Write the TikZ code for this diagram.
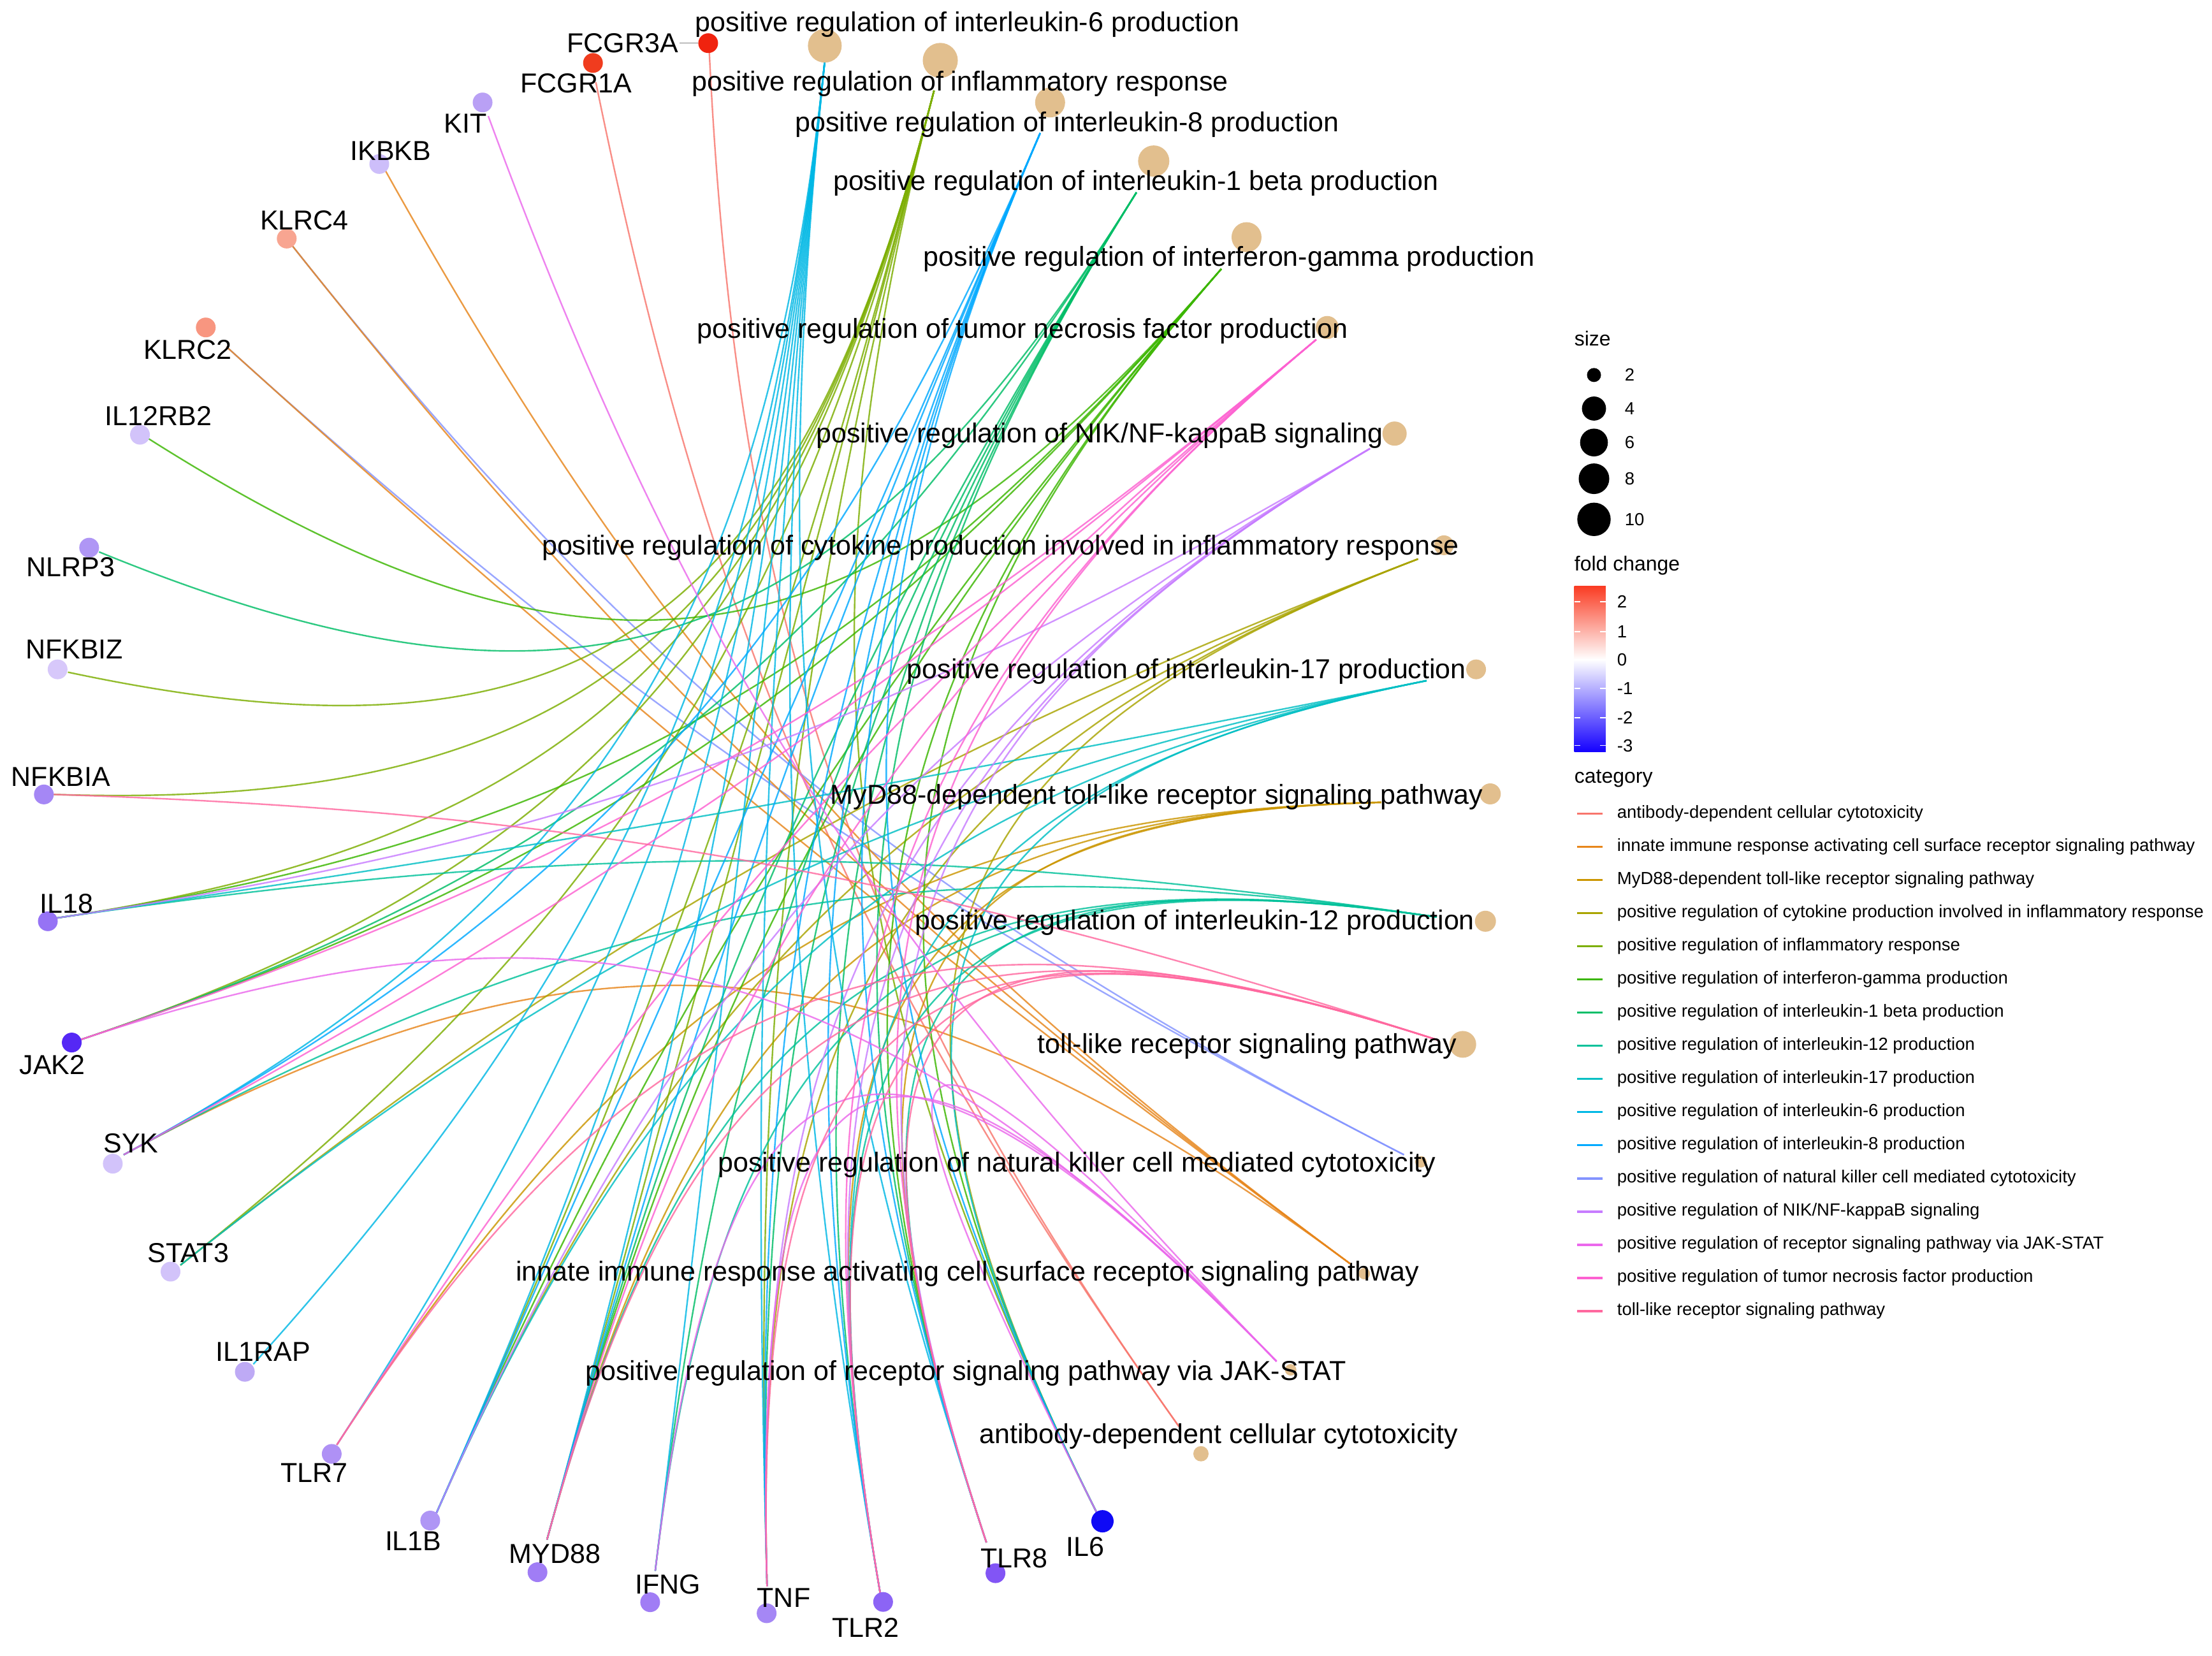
\documentclass[tikz,border=0pt]{standalone}
\usepackage{fontspec}
\setmainfont{Liberation Sans}
\usetikzlibrary{calc}
% category colours
\definecolor{colADCC}{HTML}{F8766D}
\definecolor{colINN}{HTML}{E7861B}
\definecolor{colMYD}{HTML}{CB9600}
\definecolor{colCYT}{HTML}{A9A400}
\definecolor{colINF}{HTML}{7CAE00}
\definecolor{colIFN}{HTML}{3BB600}
\definecolor{colIL1}{HTML}{00BE67}
\definecolor{colIL12}{HTML}{00C19A}
\definecolor{colIL17}{HTML}{00BFC4}
\definecolor{colIL6}{HTML}{00B8E5}
\definecolor{colIL8}{HTML}{00A9FF}
\definecolor{colNK}{HTML}{8494FF}
\definecolor{colNIK}{HTML}{C77CFF}
\definecolor{colJAK}{HTML}{EB68EC}
\definecolor{colTNF}{HTML}{FD61D1}
\definecolor{colTLR}{HTML}{FF689F}
\definecolor{catfill}{HTML}{E2BF8E}
\definecolor{fcTop}{RGB}{250,60,35}
\definecolor{fcLow}{RGB}{20,0,255}
% gene fold-change colours
\definecolor{fFCGR3A}{RGB}{240,35,15}
\definecolor{fFCGR1A}{RGB}{240,60,30}
\definecolor{fKIT}{RGB}{185,160,245}
\definecolor{fIKBKB}{RGB}{205,190,250}
\definecolor{fKLRC4}{RGB}{248,165,145}
\definecolor{fKLRC2}{RGB}{248,150,128}
\definecolor{fIL12RB2}{RGB}{210,195,250}
\definecolor{fNLRP3}{RGB}{175,150,245}
\definecolor{fNFKBIZ}{RGB}{215,200,250}
\definecolor{fNFKBIA}{RGB}{165,135,245}
\definecolor{fIL18}{RGB}{150,115,245}
\definecolor{fJAK2}{RGB}{85,40,245}
\definecolor{fSYK}{RGB}{210,195,250}
\definecolor{fSTAT3}{RGB}{210,195,250}
\definecolor{fIL1RAP}{RGB}{190,170,245}
\definecolor{fTLR7}{RGB}{175,145,245}
\definecolor{fIL1B}{RGB}{175,150,245}
\definecolor{fMYD88}{RGB}{160,125,245}
\definecolor{fIFNG}{RGB}{160,125,245}
\definecolor{fTNF}{RGB}{165,135,245}
\definecolor{fTLR2}{RGB}{140,100,245}
\definecolor{fTLR8}{RGB}{130,85,245}
\definecolor{fIL6}{RGB}{15,10,245}
\newcommand\gedge[2]{\draw[edge,draw=col#2] (g#1) .. controls ($(g#1)!0.75!(ctr)$) and ($(c#2)!0.75!(ctr)$) .. (c#2);}
\begin{document}
\begin{tikzpicture}[x=2.22pt,y=-2.22pt,
  edge/.style={line width=2.4pt,opacity=0.82},
  lab/.style={inner sep=0pt,font=\fontsize{43}{50}\selectfont},
  gpt/.style={circle,inner sep=0pt,minimum size=31pt,draw=none},
  cpt/.style={circle,inner sep=0pt,fill=catfill,draw=none},
  leg/.style={inner sep=0pt,anchor=west,font=\fontsize{27.5}{32}\selectfont},
  legttl/.style={inner sep=0pt,anchor=west,font=\fontsize{32}{38}\selectfont},
  keyline/.style={line width=3.5pt}]
\useasboundingbox (0,0) rectangle (1563,1170);
\fill[white] (0,0) rectangle (1563,1170);
\coordinate (ctr) at (527,577);
% ---- category anchors
\coordinate (cIL6) at (583,41);
\coordinate (cINF) at (660,64);
\coordinate (cIL8) at (735,94);
\coordinate (cIL1) at (803,136);
\coordinate (cIFN) at (863,190);
\coordinate (cTNF) at (930,240);
\coordinate (cNIK) at (968,317);
\coordinate (cCYT) at (1002,395);
\coordinate (cIL17) at (1008,481);
\coordinate (cMYD) at (976,567);
\coordinate (cIL12) at (1015,648);
\coordinate (cTLR) at (1016,735);
\coordinate (cNK) at (992,816);
\coordinate (cINN) at (954,893);
\coordinate (cJAK) at (902,962);
\coordinate (cADCC) at (833,1008);
% ---- gene anchors
\coordinate (gFCGR3A) at (501,33);
\coordinate (gFCGR1A) at (421,58);
\coordinate (gKIT) at (345,82);
\coordinate (gIKBKB) at (272,120);
\coordinate (gKLRC4) at (206,173);
\coordinate (gKLRC2) at (160,245);
\coordinate (gIL12RB2) at (105,310);
\coordinate (gNLRP3) at (70,390);
\coordinate (gNFKBIZ) at (48,475);
\coordinate (gNFKBIA) at (38,561.4);
\coordinate (gIL18) at (38,649);
\coordinate (gJAK2) at (56,735);
\coordinate (gSYK) at (87.4,816);
\coordinate (gSTAT3) at (127.5,894);
\coordinate (gIL1RAP) at (179,964);
\coordinate (gTLR7) at (238,1021);
\coordinate (gIL1B) at (308,1070);
\coordinate (gMYD88) at (386.5,1088);
\coordinate (gIFNG) at (463,1110);
\coordinate (gTNF) at (542,1121);
\coordinate (gTLR2) at (622.5,1129);
\coordinate (gTLR8) at (697,1090);
\coordinate (gIL6) at (776,1071);
% ---- edges
\gedge{FCGR3A}{ADCC}
\gedge{FCGR1A}{ADCC}
\gedge{KLRC4}{NK}
\gedge{KLRC2}{NK}
\gedge{IKBKB}{INN}
\gedge{KLRC4}{INN}
\gedge{KLRC2}{INN}
\gedge{SYK}{INN}
\gedge{TLR7}{MYD}
\gedge{MYD88}{MYD}
\gedge{TLR2}{MYD}
\gedge{TLR8}{MYD}
\gedge{STAT3}{CYT}
\gedge{IL1B}{CYT}
\gedge{TNF}{CYT}
\gedge{IL6}{CYT}
\gedge{NFKBIZ}{INF}
\gedge{NFKBIA}{INF}
\gedge{IL18}{INF}
\gedge{JAK2}{INF}
\gedge{STAT3}{INF}
\gedge{IL1B}{INF}
\gedge{MYD88}{INF}
\gedge{TNF}{INF}
\gedge{IL6}{INF}
\gedge{IL12RB2}{IFN}
\gedge{IL18}{IFN}
\gedge{JAK2}{IFN}
\gedge{IL1B}{IFN}
\gedge{MYD88}{IFN}
\gedge{TLR8}{IFN}
\gedge{IL6}{IFN}
\gedge{NLRP3}{IL1}
\gedge{JAK2}{IL1}
\gedge{MYD88}{IL1}
\gedge{IFNG}{IL1}
\gedge{TNF}{IL1}
\gedge{TLR2}{IL1}
\gedge{TLR8}{IL1}
\gedge{IL18}{IL12}
\gedge{SYK}{IL12}
\gedge{MYD88}{IL12}
\gedge{IFNG}{IL12}
\gedge{TLR2}{IL12}
\gedge{TLR8}{IL12}
\gedge{IL18}{IL17}
\gedge{STAT3}{IL17}
\gedge{IL1B}{IL17}
\gedge{TLR2}{IL17}
\gedge{IL6}{IL17}
\gedge{SYK}{IL6}
\gedge{IL1RAP}{IL6}
\gedge{TLR7}{IL6}
\gedge{IL1B}{IL6}
\gedge{MYD88}{IL6}
\gedge{IFNG}{IL6}
\gedge{TNF}{IL6}
\gedge{TLR2}{IL6}
\gedge{TLR8}{IL6}
\gedge{SYK}{IL8}
\gedge{IL1B}{IL8}
\gedge{MYD88}{IL8}
\gedge{TNF}{IL8}
\gedge{TLR2}{IL8}
\gedge{TLR8}{IL8}
\gedge{IL6}{IL8}
\gedge{IL18}{NIK}
\gedge{IL1B}{NIK}
\gedge{TNF}{NIK}
\gedge{TLR2}{NIK}
\gedge{TLR8}{NIK}
\gedge{KIT}{JAK}
\gedge{JAK2}{JAK}
\gedge{IFNG}{JAK}
\gedge{TNF}{JAK}
\gedge{IL6}{JAK}
\gedge{SYK}{TNF}
\gedge{JAK2}{TNF}
\gedge{TLR7}{TNF}
\gedge{MYD88}{TNF}
\gedge{TLR2}{TNF}
\gedge{TLR8}{TNF}
\gedge{NFKBIA}{TLR}
\gedge{TLR7}{TLR}
\gedge{MYD88}{TLR}
\gedge{TNF}{TLR}
\gedge{TLR2}{TLR}
\gedge{TLR8}{TLR}
% ---- category points
\node[cpt,minimum size=53pt] (pIL6) at (582.8,32.3) {};
\node[cpt,minimum size=55pt] (pINF) at (664.4,42.7) {};
\node[cpt,minimum size=47pt] (pIL8) at (742,72.4) {};
\node[cpt,minimum size=49pt] (pIL1) at (815.2,113.8) {};
\node[cpt,minimum size=47pt] (pIFN) at (880.8,167.6) {};
\node[cpt,minimum size=36pt] (pTNF) at (937.8,231.4) {};
\node[cpt,minimum size=38pt] (pNIK) at (985.4,306.4) {};
\node[cpt,minimum size=31pt] (pCYT) at (1020.3,385.3) {};
\node[cpt,minimum size=31pt] (pIL17) at (1043,473) {};
\node[cpt,minimum size=33pt] (pMYD) at (1053,561) {};
\node[cpt,minimum size=33pt] (pIL12) at (1049.6,651) {};
\node[cpt,minimum size=42pt] (pTLR) at (1033.6,738) {};
\node[cpt,minimum size=18pt] (pNK) at (1004,821) {};
\node[cpt,minimum size=18pt] (pINN) at (964,900) {};
\node[cpt,minimum size=18pt] (pJAK) at (912,968) {};
\node[cpt,minimum size=24pt] (pADCC) at (848.6,1027.3) {};
% ---- gene points
\node[gpt,fill=fFCGR3A] (nFCGR3A) at (500.4,30.5) {};
\node[gpt,fill=fFCGR1A] (nFCGR1A) at (419,44.5) {};
\node[gpt,fill=fKIT] (nKIT) at (341,72.4) {};
\node[gpt,fill=fIKBKB] (nIKBKB) at (268,115.9) {};
\node[gpt,fill=fKLRC4] (nKLRC4) at (202.6,168.6) {};
\node[gpt,fill=fKLRC2] (nKLRC2) at (145.4,231.4) {};
\node[gpt,fill=fIL12RB2] (nIL12RB2) at (98.9,307.2) {};
\node[gpt,fill=fNLRP3] (nNLRP3) at (63,387) {};
\node[gpt,fill=fNFKBIZ] (nNFKBIZ) at (40.7,473) {};
\node[gpt,fill=fNFKBIA] (nNFKBIA) at (31,561.4) {};
\node[gpt,fill=fIL18] (nIL18) at (33.8,651) {};
\node[gpt,fill=fJAK2] (nJAK2) at (50.7,736.7) {};
\node[gpt,fill=fSYK] (nSYK) at (79.7,822.3) {};
\node[gpt,fill=fSTAT3] (nSTAT3) at (120.5,898.6) {};
\node[gpt,fill=fIL1RAP] (nIL1RAP) at (173,969.4) {};
\node[gpt,fill=fTLR7] (nTLR7) at (234.4,1027.4) {};
\node[gpt,fill=fIL1B] (nIL1B) at (304,1074.5) {};
\node[gpt,fill=fMYD88] (nMYD88) at (379.8,1111) {};
\node[gpt,fill=fIFNG] (nIFNG) at (459.4,1132.2) {};
\node[gpt,fill=fTNF] (nTNF) at (541.7,1140) {};
\node[gpt,fill=fTLR2] (nTLR2) at (624,1132) {};
\node[gpt,fill=fTLR8] (nTLR8) at (703.4,1111.7) {};
\node[gpt,fill=fIL6,minimum size=35pt] (nIL6) at (779,1075) {};
% ---- gene labels
\node[lab] (lFCGR3A) at (440,30.5) {FCGR3A};
\draw[gray,line width=1.5pt] (lFCGR3A.east) ++(1,0) -- (nFCGR3A.west);
\node[lab] (lFCGR1A) at (407,59) {FCGR1A};
\node[lab] (lKIT) at (329,87.4) {KIT};
\node[lab] (lIKBKB) at (276,106.5) {IKBKB};
\node[lab] (lKLRC4) at (215,155.7) {KLRC4};
\node[lab] (lKLRC2) at (132.7,247) {KLRC2};
\node[lab] (lIL12RB2) at (112,294) {IL12RB2};
\node[lab] (lNLRP3) at (50,400.6) {NLRP3};
\node[lab] (lNFKBIZ) at (52.5,459) {NFKBIZ};
\node[lab] (lNFKBIA) at (43,549) {NFKBIA};
\node[lab] (lIL18) at (47,638.4) {IL18};
\node[lab] (lJAK2) at (37,752.5) {JAK2};
\node[lab] (lSYK) at (92.6,808) {SYK};
\node[lab] (lSTAT3) at (133,885.6) {STAT3};
\node[lab] (lIL1RAP) at (186,955) {IL1RAP};
\node[lab] (lTLR7) at (222,1041) {TLR7};
\node[lab] (lIL1B) at (292,1089) {IL1B};
\node[lab] (lMYD88) at (392,1098) {MYD88};
\node[lab] (lIFNG) at (472,1119.4) {IFNG};
\node[lab] (lTNF) at (553.8,1129) {TNF};
\node[lab] (lTLR2) at (611.5,1150) {TLR2};
\node[lab] (lTLR8) at (716.7,1101) {TLR8};
\node[lab] (lIL6) at (766.8,1093) {IL6};
% ---- category labels
\node[lab] (tIL6) at (683.5,17.5) {positive regulation of interleukin-6 production};
\node[lab] (tINF) at (678.5,59) {positive regulation of inflammatory response};
\node[lab] (tIL8) at (754,88) {positive regulation of interleukin-8 production};
\node[lab] (tIL1) at (802.5,129.3) {positive regulation of interleukin-1 beta production};
\node[lab] (tIFN) at (868.5,183) {positive regulation of interferon-gamma production};
\node[lab] (tTNF) at (722.5,234) {positive regulation of tumor necrosis factor production};
\node[lab] (tNIK) at (777,307.7) {positive regulation of NIK/NF-kappaB signaling};
\node[lab] (tCYT) at (707,387) {positive regulation of cytokine production involved in inflammatory response};
\node[lab] (tIL17) at (838.4,474.4) {positive regulation of interleukin-17 production};
\node[lab] (tMYD) at (817.3,563) {MyD88-dependent toll-like receptor signaling pathway};
\node[lab] (tIL12) at (844.3,652) {positive regulation of interleukin-12 production};
\node[lab] (tTLR) at (881.3,739.5) {toll-like receptor signaling pathway};
\node[lab] (tNK) at (761,823) {positive regulation of natural killer cell mediated cytotoxicity};
\node[lab] (tINN) at (683.7,900.3) {innate immune response activating cell surface receptor signaling pathway};
\node[lab] (tJAK) at (682.4,970.6) {positive regulation of receptor signaling pathway via JAK-STAT};
\node[lab] (tADCC) at (861,1015) {antibody-dependent cellular cytotoxicity};
% ---- legend: size
\node[legttl] (szT) at (1112.4,239) {size};
\fill[black] (1126.3,265) circle[radius=11pt];
\fill[black] (1126.3,288.7) circle[radius=18.9pt];
\fill[black] (1126.3,312.7) circle[radius=21.8pt];
\fill[black] (1126.3,338.3) circle[radius=24pt];
\fill[black] (1126.3,367) circle[radius=26.2pt];
\node[leg] (sz2) at (1148,265) {2};
\node[leg] (sz4) at (1148,288.7) {4};
\node[leg] (sz6) at (1148,312.7) {6};
\node[leg] (sz8) at (1148,338.3) {8};
\node[leg] (sz10) at (1148,367) {10};
% ---- legend: fold change
\node[legttl] (fcT) at (1112.4,399.8) {fold change};
\shade[top color=fcTop,bottom color=white] (1112.4,414.2) rectangle (1134.6,466.1);
\shade[top color=white,bottom color=fcLow] (1112.4,466.1) rectangle (1134.6,531.3);
\foreach \yy in {425.3,446.4,466.1,486.5,507.2,526.8}{
  \draw[white,line width=1.5pt] (1112.4,\yy) -- (1116.4,\yy);
  \draw[white,line width=1.5pt] (1130.6,\yy) -- (1134.6,\yy);}
\node[leg] (fc2) at (1142.6,425.3) {2};
\node[leg] (fc1) at (1142.6,446.4) {1};
\node[leg] (fc0) at (1142.6,466.1) {0};
\node[leg] (fcm1) at (1142.6,486.5) {-1};
\node[leg] (fcm2) at (1142.6,507.2) {-2};
\node[leg] (fcm3) at (1142.6,526.8) {-3};
% ---- legend: category
\node[legttl] (catT) at (1112.4,550) {category};
\foreach \c/\t [count=\i from 0] in {
  ADCC/{antibody-dependent cellular cytotoxicity},
  INN/{innate immune response activating cell surface receptor signaling pathway},
  MYD/{MyD88-dependent toll-like receptor signaling pathway},
  CYT/{positive regulation of cytokine production involved in inflammatory response},
  INF/{positive regulation of inflammatory response},
  IFN/{positive regulation of interferon-gamma production},
  IL1/{positive regulation of interleukin-1 beta production},
  IL12/{positive regulation of interleukin-12 production},
  IL17/{positive regulation of interleukin-17 production},
  IL6/{positive regulation of interleukin-6 production},
  IL8/{positive regulation of interleukin-8 production},
  NK/{positive regulation of natural killer cell mediated cytotoxicity},
  NIK/{positive regulation of NIK/NF-kappaB signaling},
  JAK/{positive regulation of receptor signaling pathway via JAK-STAT},
  TNF/{positive regulation of tumor necrosis factor production},
  TLR/{toll-like receptor signaling pathway}}{
  \pgfmathsetmacro\yy{575+23.43*\i}
  \draw[keyline,draw=col\c] (1114.4,\yy) -- (1132.4,\yy);
  \node[leg] (k\c) at (1142.6,\yy) {\t};}
\end{tikzpicture}
\end{document}
